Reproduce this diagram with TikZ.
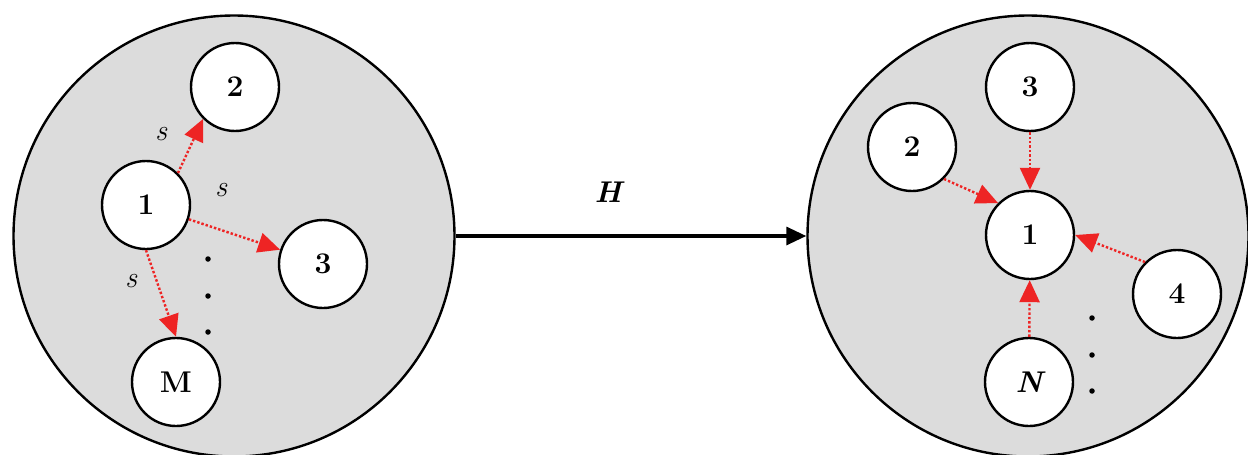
\documentclass[tikz,border=0pt]{standalone}
\usepackage{fontspec}
\usetikzlibrary{arrows.meta}
\definecolor{bggray}{HTML}{DCDCDC}
\definecolor{arrred}{HTML}{EE2424}
\begin{document}
\begin{tikzpicture}[x=1pt,y=-1pt,
  big/.style={circle,draw=black,line width=2.4pt,fill=bggray,minimum size=441pt,inner sep=0pt},
  small/.style={circle,draw=black,line width=2.4pt,fill=white,minimum size=88pt,inner sep=0pt,font=\fontsize{30}{36}\selectfont\bfseries},
  redarr/.style={draw=arrred,line width=2.4pt,dotted,-{Triangle[length=22pt,width=20pt]}},
  slab/.style={font=\fontsize{30}{36}\selectfont\itshape},
  dotn/.style={circle,fill=black,inner sep=0pt,minimum size=5.5pt}]
\useasboundingbox (0,0) rectangle (1248,455);
\node[big] (L) at (234,236) {};
\node[big] (R) at (1028,236) {};
% left
\node[small] (l2) at (235,87) {2};
\node[small] (l1) at (146,205) {1};
\node[small] (l3) at (323,264) {3};
\node[small] (lM) at (176,382) {M};
\draw[redarr] (l1.45) -- (l2.-135);
\draw[redarr] (l1) -- (l3);
\draw[redarr] (l1.south) -- (lM.north);
\node[slab] (s1) at (161,134) {s};
\node[slab] (s2) at (221,190) {s};
\node[slab] (s3) at (131,281) {s};
\node[dotn] (ld1) at (208,259) {};
\node[dotn] (ld2) at (208,296) {};
\node[dotn] (ld3) at (208,332) {};
% right
\node[small] (r3) at (1030,87) {3};
\node[small] (r2) at (912,147) {2};
\node[small] (r1) at (1030,235) {1};
\node[small] (r4) at (1177,294) {4};
\node[small,font=\fontsize{30}{36}\selectfont\bfseries\itshape] (rN) at (1029,382) {N};
\draw[redarr] (r3) -- (r1);
\draw[redarr] (r2.-45) -- (r1.135);
\draw[redarr] (r4.135) -- (r1.east);
\draw[redarr] (rN) -- (r1);
\node[dotn] (rd1) at (1092,318) {};
\node[dotn] (rd2) at (1092,355) {};
\node[dotn] (rd3) at (1092,391) {};
% main arrow
\draw[line width=3.2pt,-{Triangle[length=20pt,width=18pt]}] (L.east) -- (R.west);
\node[font=\fontsize{30}{36}\selectfont\bfseries\itshape] (H) at (608,192) {H};
\end{tikzpicture}
\end{document}
